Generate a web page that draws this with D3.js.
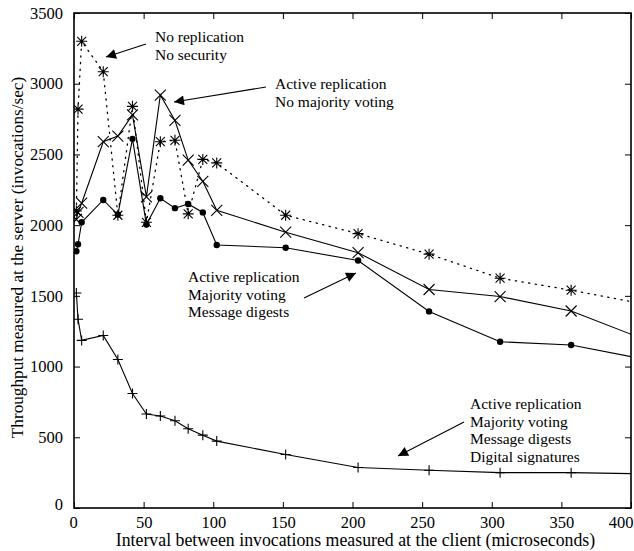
<!DOCTYPE html>
<html>
<head>
<meta charset="utf-8">
<script src="https://cdn.jsdelivr.net/npm/d3@7"></script>
<style>
html,body{margin:0;padding:0;background:#fff;}
svg text{font-family:"Liberation Serif","Times New Roman",serif;fill:#000;}
</style>
</head>
<body>
<svg id="chart" width="634" height="551"></svg>
<script>
// ---- data ----
const intervals = [1.7, 2.9, 5.5, 21, 31.5, 42, 52, 62, 72.5, 82, 92.5, 102.5, 152, 204, 255, 306, 357, 408];
const noReplication   = [2100, 2820, 3300, 3085, 2070, 2840, 2020, 2590, 2600, 2080, 2465, 2440, 2070, 1940, 1795, 1625, 1540, 1444];
const activeNoVoting  = [2040, 2090, 2155, 2590, 2630, 2780, 2200, 2920, 2740, 2460, 2310, 2105, 1950, 1805, 1545, 1495, 1393, 1198];
const majorityDigests = [1815, 1865, 2020, 2178, 2075, 2610, 2005, 2190, 2120, 2150, 2090, 1860, 1840, 1750, 1390, 1175, 1153, 1055];
const digitalSigs     = [1520, 1335, 1185, 1220, 1050, 810, 665, 650, 617, 560, 515, 473, 378, 286, 267, 250, 250, 242];
const xTicks = [0, 50, 100, 150, 200, 250, 300, 350, 400];
const yTicks = [0, 500, 1000, 1500, 2000, 2500, 3000, 3500];
const xTitle = "Interval between invocations measured at the client (microseconds)";
const yTitle = "Throughput measured at the server (invocations/sec)";
const notes = [
  {lines: ["No replication", "No security"]},
  {lines: ["Active replication", "No majority voting"]},
  {lines: ["Active replication", "Majority voting", "Message digests"]},
  {lines: ["Active replication", "Majority voting", "Message digests", "Digital signatures"]}
];

// ---- layout ----
const L = 74, R = 631, T = 13, B = 508;
const svg = d3.select("#chart");
const x = d3.scaleLinear().domain([0, 400]).range([L, R]);
const y = d3.scaleLinear().domain([0, 3500]).range([B, T]);

svg.append("defs").append("clipPath").attr("id", "clip")
  .append("rect").attr("x", L).attr("y", T).attr("width", R - L).attr("height", B - T);
const mk = svg.append("defs").append("marker").attr("id", "ah")
  .attr("viewBox", "0 0 10 10").attr("refX", 10).attr("refY", 5)
  .attr("markerWidth", 14).attr("markerHeight", 10).attr("markerUnits", "userSpaceOnUse")
  .attr("orient", "auto");
mk.append("path").attr("d", "M0,0 L10,5 L0,10 z").attr("fill", "#000");

// axes with inward ticks
const fs = 15.5, tfs = 16.5;
const ax = svg.append("g").attr("transform", `translate(0,${B})`)
  .call(d3.axisBottom(x).tickValues(xTicks).tickSize(-6).tickPadding(8).tickFormat(d3.format("d")));
const axTop = svg.append("g").attr("transform", `translate(0,${T})`)
  .call(d3.axisTop(x).tickValues(xTicks).tickSize(-6).tickFormat(""));
const ayL = svg.append("g").attr("transform", `translate(${L},0)`)
  .call(d3.axisLeft(y).tickValues(yTicks).tickSize(-6).tickPadding(11).tickFormat(d3.format("d")));
const ayR = svg.append("g").attr("transform", `translate(${R},0)`)
  .call(d3.axisRight(y).tickValues(yTicks).tickSize(-6).tickFormat(""));
[ax, axTop, ayL, ayR].forEach(g => {
  g.select(".domain").remove();
  g.selectAll(".tick line").attr("stroke", "#000").attr("stroke-width", 1);
  g.selectAll("text").attr("font-size", tfs).attr("font-family", "Liberation Serif");
});
ax.selectAll(".tick").filter(d => d === 400).select("text").attr("text-anchor", "end").attr("dx", 2);
ax.selectAll(".tick").filter(d => d === 0).select("text").attr("dx", -1);
ayL.selectAll(".tick").filter(d => d === 0).select("text").attr("dy", "0.1em");

svg.append("rect").attr("x", L).attr("y", T).attr("width", R - L).attr("height", B - T)
  .attr("fill", "none").attr("stroke", "#000").attr("stroke-width", 1.6);

// titles
svg.append("text").attr("x", (L + R) / 2 + 3).attr("y", 546).attr("text-anchor", "middle")
  .attr("font-size", 17.8).text(xTitle);
svg.append("text").attr("transform", `translate(23,${(T + B) / 2 - 3}) rotate(-90)`)
  .attr("text-anchor", "middle").attr("font-size", 17.2).text(yTitle);

// series
const plot = svg.append("g").attr("clip-path", "url(#clip)");
const line = d3.line().x(d => x(d[0])).y(d => y(d[1]));
function series(vals, dash, marker) {
  const pts = intervals.map((v, i) => [v, vals[i]]);
  plot.append("path").datum(pts).attr("d", line).attr("fill", "none")
    .attr("stroke", "#000").attr("stroke-width", dash ? 1.3 : 1.1)
    .attr("stroke-dasharray", dash || null).attr("stroke-linecap", "round");
  const g = plot.append("g");
  pts.forEach(p => marker(g, x(p[0]), y(p[1])));
}
const s = 5.5;
function mX(g, cx, cy) {
  g.append("path").attr("d", `M${cx - s},${cy - s}L${cx + s},${cy + s}M${cx - s},${cy + s}L${cx + s},${cy - s}`)
    .attr("stroke", "#000").attr("stroke-width", 1.1);
}
function mStar(g, cx, cy) {
  const a = 4.5;
  g.append("path").attr("d", `M${cx - a},${cy - a}L${cx + a},${cy + a}M${cx - a},${cy + a}L${cx + a},${cy - a}M${cx - a - 1},${cy}L${cx + a + 1},${cy}M${cx},${cy - a - 1}L${cx},${cy + a + 1}`)
    .attr("stroke", "#000").attr("stroke-width", 1.1);
}
function mDot(g, cx, cy) {
  g.append("circle").attr("cx", cx).attr("cy", cy).attr("r", 3.2).attr("fill", "#000");
}
function mPlus(g, cx, cy) {
  g.append("path").attr("d", `M${cx - 5},${cy}L${cx + 5},${cy}M${cx},${cy - 5}L${cx},${cy + 5}`)
    .attr("stroke", "#000").attr("stroke-width", 1.1);
}
series(noReplication, "1.2,5.5", mStar);
series(activeNoVoting, null, mX);
series(majorityDigests, null, mDot);
series(digitalSigs, null, mPlus);

// annotations
const notePos = [
  {x: 155, y: 42, ax1: 146, ay1: 44, ax2: 106, ay2: 57},
  {x: 275, y: 89, ax1: 266, ay1: 87, ax2: 174, ay2: 102},
  {x: 188, y: 282, ax1: 304, ay1: 298, ax2: 356, ay2: 273},
  {x: 470, y: 409, ax1: 464, ay1: 422, ax2: 398, ay2: 456}
];
notes.forEach((n, i) => {
  const p = notePos[i];
  const t = svg.append("text").attr("x", p.x).attr("y", p.y).attr("font-size", fs);
  n.lines.forEach((ln, j) => t.append("tspan").attr("x", p.x).attr("dy", j ? 17.5 : 0).text(ln));
  svg.append("line").attr("x1", p.ax1).attr("y1", p.ay1).attr("x2", p.ax2).attr("y2", p.ay2)
    .attr("stroke", "#000").attr("stroke-width", 1.1).attr("marker-end", "url(#ah)");
});
</script>
</body>
</html>
